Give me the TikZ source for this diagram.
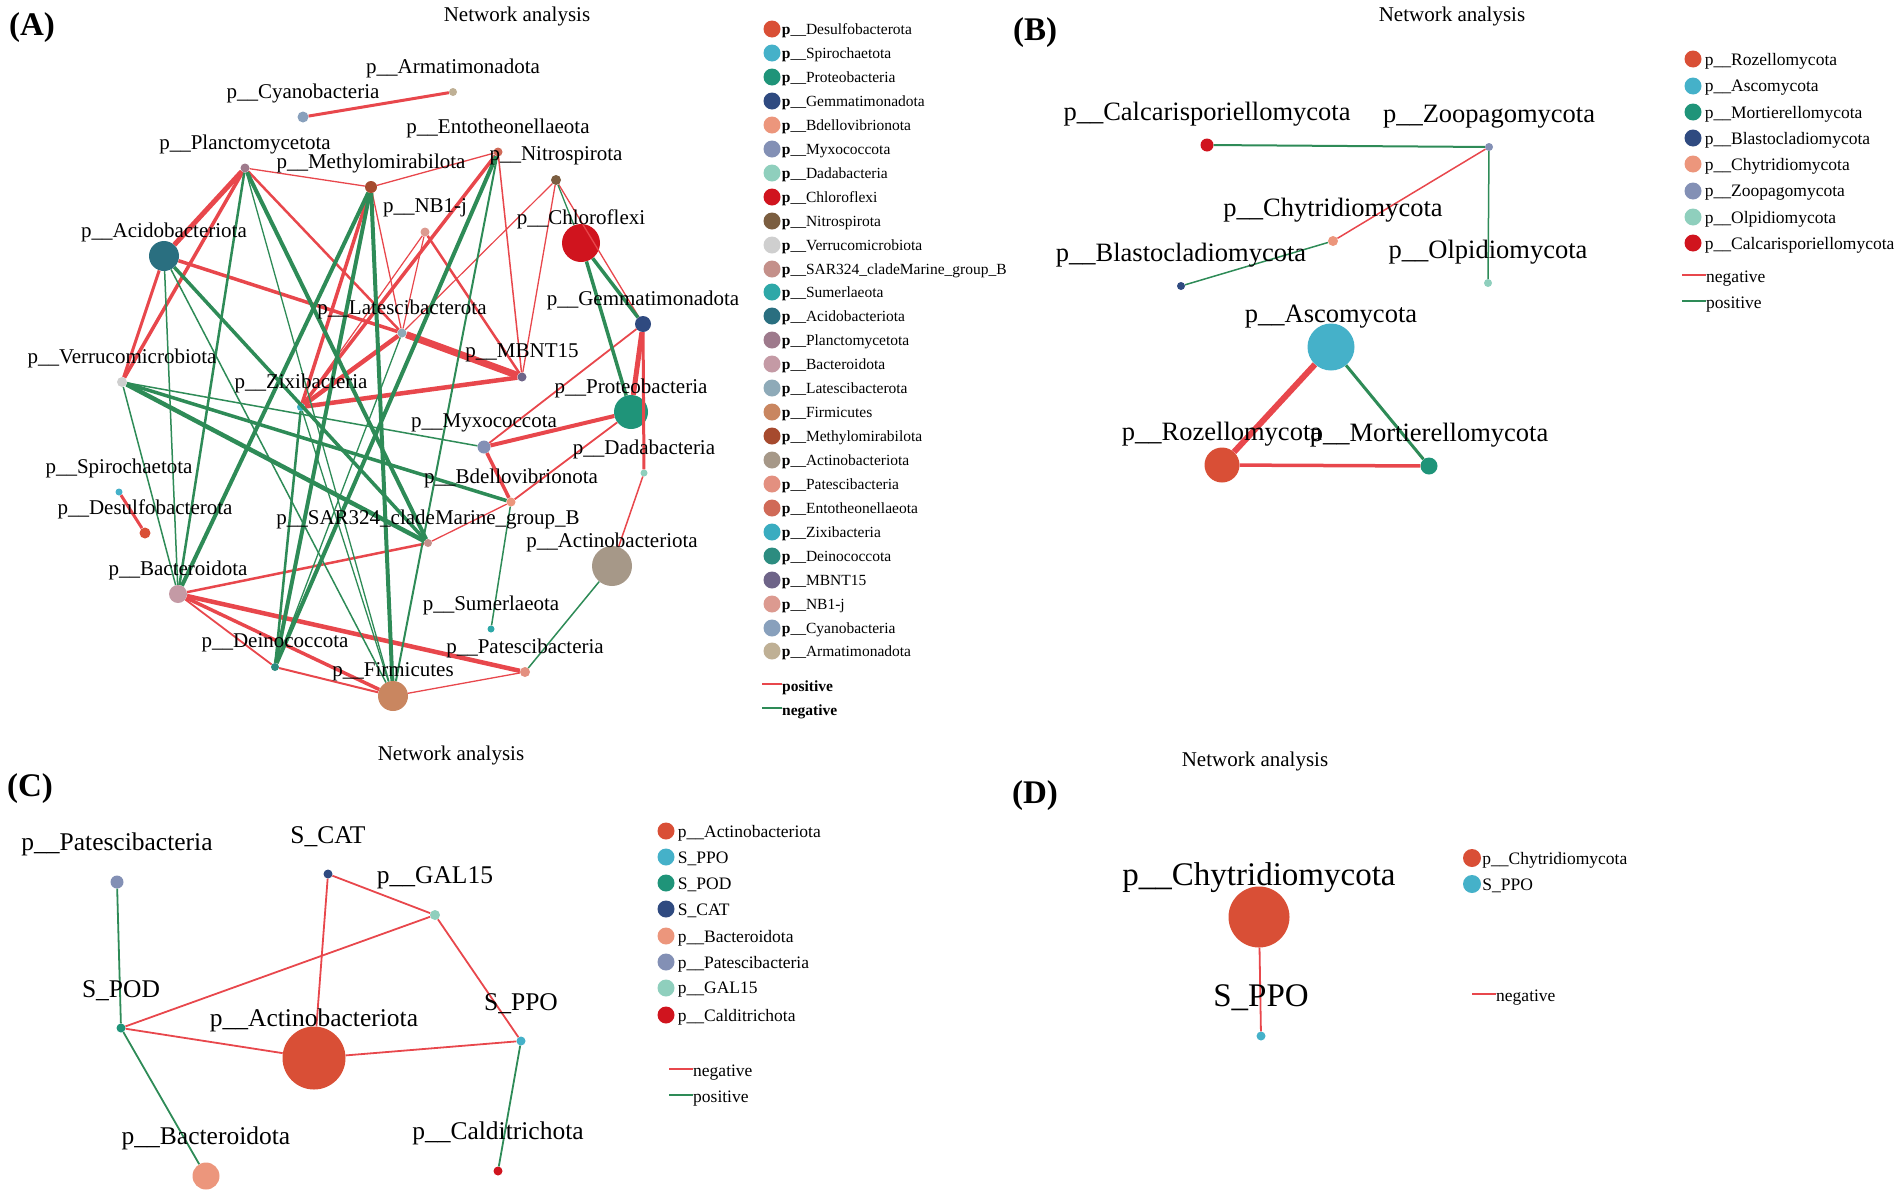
\documentclass[tikz,border=0pt]{standalone}
\usepackage{fontspec}
\setmainfont{Liberation Serif}
\usepackage{xcolor}
\usepackage{tikz}
\usetikzlibrary{positioning}
\definecolor{edgered}{HTML}{E8474C}
\definecolor{edgegreen}{HTML}{2E8B57}
\definecolor{cDesulfo}{HTML}{D94F36}
\definecolor{cSpiro}{HTML}{45B1C9}
\definecolor{cProteo}{HTML}{1F9479}
\definecolor{cGemma}{HTML}{2F4A80}
\definecolor{cBdello}{HTML}{EC967C}
\definecolor{cMyxo}{HTML}{8390B5}
\definecolor{cDada}{HTML}{8FCFBD}
\definecolor{cChloro}{HTML}{D0141E}
\definecolor{cNitro}{HTML}{7B5E40}
\definecolor{cVerru}{HTML}{CFCFCF}
\definecolor{cSar}{HTML}{C4908A}
\definecolor{cSumer}{HTML}{2EA8A8}
\definecolor{cAcido}{HTML}{2A6F80}
\definecolor{cPlanct}{HTML}{9E7A8C}
\definecolor{cBacter}{HTML}{C49AA5}
\definecolor{cLatesci}{HTML}{8EAAB8}
\definecolor{cFirmi}{HTML}{C98660}
\definecolor{cMethylo}{HTML}{A64A2E}
\definecolor{cActino}{HTML}{A69888}
\definecolor{cPatesci}{HTML}{E39080}
\definecolor{cEntotheo}{HTML}{D06A58}
\definecolor{cZixi}{HTML}{3AACC0}
\definecolor{cDeino}{HTML}{2C8C80}
\definecolor{cMbnt}{HTML}{6E6488}
\definecolor{cNbj}{HTML}{DC9A90}
\definecolor{cCyano}{HTML}{88A0BC}
\definecolor{cArmati}{HTML}{BFB095}
\tikzset{
    taxon/.style = {circle, draw=none, inner sep=0pt},
    nameA/.style = {inner sep=0pt, font=\fontsize{21}{24}\selectfont},
    nameB/.style = {inner sep=0pt, font=\fontsize{26.5}{30}\selectfont},
    nameC/.style = {inner sep=0pt, font=\fontsize{25.5}{29}\selectfont},
    nameD/.style = {inner sep=0pt, font=\fontsize{33}{38}\selectfont},
    keyA/.style  = {inner sep=0pt, anchor=west, yshift=-2pt, font=\fontsize{15.5}{18}\selectfont},
    keyB/.style  = {inner sep=0pt, anchor=west, yshift=-2pt, font=\fontsize{17.5}{20}\selectfont},
    keydot/.style = {circle, draw=none, inner sep=0pt, minimum size=17pt},
    title/.style = {inner sep=0pt, font=\fontsize{21}{24}\selectfont},
    panel/.style = {inner sep=0pt, font=\fontsize{33}{38}\selectfont\bfseries},
    posedge/.style = {draw=edgered},
    negedge/.style = {draw=edgegreen}
}

\begin{document}
\begin{tikzpicture}[x=1pt, y=-1pt]
    \useasboundingbox (0,0) rectangle (1902,1200);

    % ---------------- (A) ----------------
    \node [panel] (pa) at (32,27.5) {(A)};
    \node [title] (ta) at (517,16.5) {Network analysis};

    \node [taxon, fill=cDesulfo, minimum size=11pt] (desulfo) at (145,533) {};
    \node [taxon, fill=cSpiro, minimum size=7pt] (spiro) at (119,492) {};
    \node [taxon, fill=cProteo, minimum size=34pt] (proteo) at (631,412) {};
    \node [taxon, fill=cGemma, minimum size=16pt] (gemma) at (643,324) {};
    \node [taxon, fill=cBdello, minimum size=9pt] (bdello) at (511,502) {};
    \node [taxon, fill=cMyxo, minimum size=13pt] (myxo) at (484,447) {};
    \node [taxon, fill=cDada, minimum size=7pt] (dada) at (644,473) {};
    \node [taxon, fill=cChloro, minimum size=38pt] (chloro) at (581,243) {};
    \node [taxon, fill=cNitro, minimum size=10pt] (nitro) at (556,180) {};
    \node [taxon, fill=cVerru, minimum size=10pt] (verru) at (122,382) {};
    \node [taxon, fill=cSar, minimum size=8pt] (sar) at (428,543) {};
    \node [taxon, fill=cSumer, minimum size=7pt] (sumer) at (491,629) {};
    \node [taxon, fill=cAcido, minimum size=30pt] (acido) at (164,256) {};
    \node [taxon, fill=cPlanct, minimum size=9pt] (planct) at (245,168) {};
    \node [taxon, fill=cBacter, minimum size=18pt] (bacter) at (178,594) {};
    \node [taxon, fill=cLatesci, minimum size=9pt] (latesci) at (402,333) {};
    \node [taxon, fill=cFirmi, minimum size=30pt] (firmi) at (393,696) {};
    \node [taxon, fill=cMethylo, minimum size=12pt] (methylo) at (371,187) {};
    \node [taxon, fill=cActino, minimum size=40pt] (actino) at (612,566) {};
    \node [taxon, fill=cPatesci, minimum size=10pt] (patesci) at (525,672) {};
    \node [taxon, fill=cEntotheo, minimum size=9pt] (entotheo) at (498,152) {};
    \node [taxon, fill=cZixi, minimum size=8pt] (zixi) at (301,407) {};
    \node [taxon, fill=cDeino, minimum size=8pt] (deino) at (275,667) {};
    \node [taxon, fill=cMbnt, minimum size=9pt] (mbnt) at (522,377) {};
    \node [taxon, fill=cNbj, minimum size=9pt] (nbj) at (425,232) {};
    \node [taxon, fill=cCyano, minimum size=11pt] (cyano) at (303,117) {};
    \node [taxon, fill=cArmati, minimum size=8pt] (armati) at (453,92) {};

    % positive (red)
    \draw [posedge, line width=3] (cyano) -- (armati);
    \draw [posedge, line width=3] (spiro) -- (desulfo);
    \draw [posedge, line width=1.3] (planct) -- (methylo);
    \draw [posedge, line width=5] (planct) -- (acido);
    \draw [posedge, line width=3.5] (planct) -- (verru);
    \draw [posedge, line width=2.5] (planct) -- (latesci);
    \draw [posedge, line width=1.3] (methylo) -- (entotheo);
    \draw [posedge, line width=3] (acido) -- (verru);
    \draw [posedge, line width=3.5] (acido) -- (latesci);
    \draw [posedge, line width=7] (latesci) -- (mbnt);
    \draw [posedge, line width=4.5] (zixi) -- (mbnt);
    \draw [posedge, line width=3.5] (methylo) -- (zixi);
    \draw [posedge, line width=3.5] (entotheo) -- (zixi);
    \draw [posedge, line width=4.5] (latesci) -- (zixi);
    \draw [posedge, line width=1.5] (entotheo) -- (mbnt);
    \draw [posedge, line width=1.2] (nbj) -- (zixi);
    \draw [posedge, line width=1.2] (nbj) -- (latesci);
    \draw [posedge, line width=2.5] (nbj) -- (mbnt);
    \draw [posedge, line width=1.2] (nitro) -- (latesci);
    \draw [posedge, line width=1.3] (nitro) -- (mbnt);
    \draw [posedge, line width=1.3] (nitro) -- (gemma);
    \draw [posedge, line width=1.3] (methylo) -- (latesci);
    \draw [posedge, line width=5] (gemma) -- (proteo);
    \draw [posedge, line width=3] (gemma) -- (dada);
    \draw [posedge, line width=1.8] (gemma) -- (myxo);
    \draw [posedge, line width=4] (proteo) -- (myxo);
    \draw [posedge, line width=1.8] (proteo) -- (bdello);
    \draw [posedge, line width=3.5] (myxo) -- (bdello);
    \draw [posedge, line width=1.3] (bdello) -- (sar);
    \draw [posedge, line width=1.5] (dada) -- (actino);
    \draw [posedge, line width=2.5] (bacter) -- (sar);
    \draw [posedge, line width=4.5] (bacter) -- (patesci);
    \draw [posedge, line width=3.5] (bacter) -- (firmi);
    \draw [posedge, line width=1.8] (bacter) -- (deino);
    \draw [posedge, line width=2] (deino) -- (firmi);
    \draw [posedge, line width=1.3] (firmi) -- (patesci);
    % negative (green)
    \draw [negedge, line width=2.5] (planct) -- (bacter);
    \draw [negedge, line width=4] (planct) -- (sar);
    \draw [negedge, line width=1.3] (planct) -- (firmi);
    \draw [negedge, line width=1.5] (acido) -- (bacter);
    \draw [negedge, line width=1.5] (acido) -- (firmi);
    \draw [negedge, line width=3.5] (acido) -- (sar);
    \draw [negedge, line width=1.5] (verru) -- (bacter);
    \draw [negedge, line width=1.5] (verru) -- (myxo);
    \draw [negedge, line width=3.5] (verru) -- (bdello);
    \draw [negedge, line width=4.5] (verru) -- (sar);
    \draw [negedge, line width=4] (methylo) -- (bacter);
    \draw [negedge, line width=4] (methylo) -- (deino);
    \draw [negedge, line width=4] (methylo) -- (firmi);
    \draw [negedge, line width=4] (entotheo) -- (deino);
    \draw [negedge, line width=2] (entotheo) -- (firmi);
    \draw [negedge, line width=1.3] (latesci) -- (deino);
    \draw [negedge, line width=2.5] (zixi) -- (deino);
    \draw [negedge, line width=1.3] (zixi) -- (firmi);
    \draw [negedge, line width=1.3] (nitro) -- (chloro);
    \draw [negedge, line width=3.5] (chloro) -- (gemma);
    \draw [negedge, line width=3.5] (chloro) -- (proteo);
    \draw [negedge, line width=1.5] (bdello) -- (sumer);
    \draw [negedge, line width=1.5] (actino) -- (patesci);

    \node [nameA] (desulfo-l) at ([yshift=24pt]desulfo.center) {p\_\_Desulfobacterota};
    \node [nameA] (spiro-l) at ([yshift=24pt]spiro.center) {p\_\_Spirochaetota};
    \node [nameA] (proteo-l) at ([yshift=24pt]proteo.center) {p\_\_Proteobacteria};
    \node [nameA] (gemma-l) at ([yshift=24pt]gemma.center) {p\_\_Gemmatimonadota};
    \node [nameA] (bdello-l) at ([yshift=24pt]bdello.center) {p\_\_Bdellovibrionota};
    \node [nameA] (myxo-l) at ([yshift=24pt]myxo.center) {p\_\_Myxococcota};
    \node [nameA] (dada-l) at ([yshift=24pt]dada.center) {p\_\_Dadabacteria};
    \node [nameA] (chloro-l) at ([yshift=24pt]chloro.center) {p\_\_Chloroflexi};
    \node [nameA] (nitro-l) at ([yshift=24pt]nitro.center) {p\_\_Nitrospirota};
    \node [nameA] (verru-l) at ([yshift=24pt]verru.center) {p\_\_Verrucomicrobiota};
    \node [nameA] (sar-l) at ([yshift=24pt]sar.center) {p\_\_SAR324\_cladeMarine\_group\_B};
    \node [nameA] (sumer-l) at ([yshift=24pt]sumer.center) {p\_\_Sumerlaeota};
    \node [nameA] (acido-l) at ([yshift=24pt]acido.center) {p\_\_Acidobacteriota};
    \node [nameA] (planct-l) at ([yshift=24pt]planct.center) {p\_\_Planctomycetota};
    \node [nameA] (bacter-l) at ([yshift=24pt]bacter.center) {p\_\_Bacteroidota};
    \node [nameA] (latesci-l) at ([yshift=24pt]latesci.center) {p\_\_Latescibacterota};
    \node [nameA] (firmi-l) at ([yshift=24pt]firmi.center) {p\_\_Firmicutes};
    \node [nameA] (methylo-l) at ([yshift=24pt]methylo.center) {p\_\_Methylomirabilota};
    \node [nameA] (actino-l) at ([yshift=24pt]actino.center) {p\_\_Actinobacteriota};
    \node [nameA] (patesci-l) at ([yshift=24pt]patesci.center) {p\_\_Patescibacteria};
    \node [nameA] (entotheo-l) at ([yshift=24pt]entotheo.center) {p\_\_Entotheonellaeota};
    \node [nameA] (zixi-l) at ([yshift=24pt]zixi.center) {p\_\_Zixibacteria};
    \node [nameA] (deino-l) at ([yshift=24pt]deino.center) {p\_\_Deinococcota};
    \node [nameA] (mbnt-l) at ([yshift=24pt]mbnt.center) {p\_\_MBNT15};
    \node [nameA] (nbj-l) at ([yshift=24pt]nbj.center) {p\_\_NB1-j};
    \node [nameA] (cyano-l) at ([yshift=24pt]cyano.center) {p\_\_Cyanobacteria};
    \node [nameA] (armati-l) at ([yshift=24pt]armati.center) {p\_\_Armatimonadota};

    % legend A
    \node [keydot, fill=cDesulfo, label={[keyA, label distance=1pt]right:{\textbf{p}\_\_Desulfobacterota}}] (ka1) at (772,29) {};
    \node [keydot, fill=cSpiro, label={[keyA, label distance=1pt]right:{\textbf{p}\_\_Spirochaetota}}] (ka2) at (772,53) {};
    \node [keydot, fill=cProteo, label={[keyA, label distance=1pt]right:{\textbf{p}\_\_Proteobacteria}}] (ka3) at (772,77) {};
    \node [keydot, fill=cGemma, label={[keyA, label distance=1pt]right:{\textbf{p}\_\_Gemmatimonadota}}] (ka4) at (772,101) {};
    \node [keydot, fill=cBdello, label={[keyA, label distance=1pt]right:{\textbf{p}\_\_Bdellovibrionota}}] (ka5) at (772,125) {};
    \node [keydot, fill=cMyxo, label={[keyA, label distance=1pt]right:{\textbf{p}\_\_Myxococcota}}] (ka6) at (772,149) {};
    \node [keydot, fill=cDada, label={[keyA, label distance=1pt]right:{\textbf{p}\_\_Dadabacteria}}] (ka7) at (772,173) {};
    \node [keydot, fill=cChloro, label={[keyA, label distance=1pt]right:{\textbf{p}\_\_Chloroflexi}}] (ka8) at (772,197) {};
    \node [keydot, fill=cNitro, label={[keyA, label distance=1pt]right:{\textbf{p}\_\_Nitrospirota}}] (ka9) at (772,221) {};
    \node [keydot, fill=cVerru, label={[keyA, label distance=1pt]right:{\textbf{p}\_\_Verrucomicrobiota}}] (ka10) at (772,245) {};
    \node [keydot, fill=cSar, label={[keyA, label distance=1pt]right:{\textbf{p}\_\_SAR324\_cladeMarine\_group\_B}}] (ka11) at (772,269) {};
    \node [keydot, fill=cSumer, label={[keyA, label distance=1pt]right:{\textbf{p}\_\_Sumerlaeota}}] (ka12) at (772,292) {};
    \node [keydot, fill=cAcido, label={[keyA, label distance=1pt]right:{\textbf{p}\_\_Acidobacteriota}}] (ka13) at (772,316) {};
    \node [keydot, fill=cPlanct, label={[keyA, label distance=1pt]right:{\textbf{p}\_\_Planctomycetota}}] (ka14) at (772,340) {};
    \node [keydot, fill=cBacter, label={[keyA, label distance=1pt]right:{\textbf{p}\_\_Bacteroidota}}] (ka15) at (772,364) {};
    \node [keydot, fill=cLatesci, label={[keyA, label distance=1pt]right:{\textbf{p}\_\_Latescibacterota}}] (ka16) at (772,388) {};
    \node [keydot, fill=cFirmi, label={[keyA, label distance=1pt]right:{\textbf{p}\_\_Firmicutes}}] (ka17) at (772,412) {};
    \node [keydot, fill=cMethylo, label={[keyA, label distance=1pt]right:{\textbf{p}\_\_Methylomirabilota}}] (ka18) at (772,436) {};
    \node [keydot, fill=cActino, label={[keyA, label distance=1pt]right:{\textbf{p}\_\_Actinobacteriota}}] (ka19) at (772,460) {};
    \node [keydot, fill=cPatesci, label={[keyA, label distance=1pt]right:{\textbf{p}\_\_Patescibacteria}}] (ka20) at (772,484) {};
    \node [keydot, fill=cEntotheo, label={[keyA, label distance=1pt]right:{\textbf{p}\_\_Entotheonellaeota}}] (ka21) at (772,508) {};
    \node [keydot, fill=cZixi, label={[keyA, label distance=1pt]right:{\textbf{p}\_\_Zixibacteria}}] (ka22) at (772,532) {};
    \node [keydot, fill=cDeino, label={[keyA, label distance=1pt]right:{\textbf{p}\_\_Deinococcota}}] (ka23) at (772,556) {};
    \node [keydot, fill=cMbnt, label={[keyA, label distance=1pt]right:{\textbf{p}\_\_MBNT15}}] (ka24) at (772,580) {};
    \node [keydot, fill=cNbj, label={[keyA, label distance=1pt]right:{\textbf{p}\_\_NB1-j}}] (ka25) at (772,604) {};
    \node [keydot, fill=cCyano, label={[keyA, label distance=1pt]right:{\textbf{p}\_\_Cyanobacteria}}] (ka26) at (772,628) {};
    \node [keydot, fill=cArmati, label={[keyA, label distance=1pt]right:{\textbf{p}\_\_Armatimonadota}}] (ka27) at (772,651) {};
    \coordinate (kaposs) at (762,684);
    \node [keyA] (kapos) at (782,686) {\textbf{positive}};
    \coordinate (kanegs) at (762,708);
    \node [keyA] (kaneg) at (782,710) {\textbf{negative}};
    \draw [posedge, line width=1.5] (kaposs) -- (kaposs -| kapos.west);
    \draw [negedge, line width=1.5] (kanegs) -- (kanegs -| kaneg.west);

    % ---------------- (B) ----------------
    \node [panel] (pb) at (1035,32.5) {(B)};
    \node [title] (tb) at (1452,16.5) {Network analysis};

    \node [taxon, fill=cChloro, minimum size=13pt] (calca) at (1207,145) {};
    \node [taxon, fill=cMyxo, minimum size=8pt] (zoopa) at (1489,147) {};
    \node [taxon, fill=cBdello, minimum size=10pt] (chytb) at (1333,241) {};
    \node [taxon, fill=cGemma, minimum size=8pt] (blast) at (1181,286) {};
    \node [taxon, fill=cDada, minimum size=8pt] (olpid) at (1488,283) {};
    \node [taxon, fill=cSpiro, minimum size=47pt] (ascom) at (1331,347) {};
    \node [taxon, fill=cDesulfo, minimum size=35pt] (rozel) at (1222,465) {};
    \node [taxon, fill=cProteo, minimum size=17pt] (morti) at (1429,466) {};

    \draw [negedge, line width=2] (calca) -- (zoopa);
    \draw [posedge, line width=1.5] (zoopa) -- (chytb);
    \draw [negedge, line width=1.5] (zoopa) -- (olpid);
    \draw [negedge, line width=1.5] (chytb) -- (blast);
    \draw [posedge, line width=6] (ascom) -- (rozel);
    \draw [negedge, line width=3] (ascom) -- (morti);
    \draw [posedge, line width=3.5] (rozel) -- (morti);

    \node [nameB] (calca-l) at ([yshift=30.5pt]calca.center) {p\_\_Calcarisporiellomycota};
    \node [nameB] (zoopa-l) at ([yshift=30.5pt]zoopa.center) {p\_\_Zoopagomycota};
    \node [nameB] (chytb-l) at ([yshift=30.5pt]chytb.center) {p\_\_Chytridiomycota};
    \node [nameB] (blast-l) at ([yshift=30.5pt]blast.center) {p\_\_Blastocladiomycota};
    \node [nameB] (olpid-l) at ([yshift=30.5pt]olpid.center) {p\_\_Olpidiomycota};
    \node [nameB] (ascom-l) at ([yshift=30.5pt]ascom.center) {p\_\_Ascomycota};
    \node [nameB] (rozel-l) at ([yshift=30.5pt]rozel.center) {p\_\_Rozellomycota};
    \node [nameB] (morti-l) at ([yshift=30.5pt]morti.center) {p\_\_Mortierellomycota};

    % legend B
    \node [keydot, fill=cDesulfo, label={[keyB, label distance=3pt]right:{p\_\_Rozellomycota}}] (kb1) at (1693,59) {};
    \node [keydot, fill=cSpiro, label={[keyB, label distance=3pt]right:{p\_\_Ascomycota}}] (kb2) at (1693,86) {};
    \node [keydot, fill=cProteo, label={[keyB, label distance=3pt]right:{p\_\_Mortierellomycota}}] (kb3) at (1693,112) {};
    \node [keydot, fill=cGemma, label={[keyB, label distance=3pt]right:{p\_\_Blastocladiomycota}}] (kb4) at (1693,138) {};
    \node [keydot, fill=cBdello, label={[keyB, label distance=3pt]right:{p\_\_Chytridiomycota}}] (kb5) at (1693,164) {};
    \node [keydot, fill=cMyxo, label={[keyB, label distance=3pt]right:{p\_\_Zoopagomycota}}] (kb6) at (1693,191) {};
    \node [keydot, fill=cDada, label={[keyB, label distance=3pt]right:{p\_\_Olpidiomycota}}] (kb7) at (1693,217) {};
    \node [keydot, fill=cChloro, label={[keyB, label distance=3pt]right:{p\_\_Calcarisporiellomycota}}] (kb8) at (1693,243) {};
    \coordinate (kbnegs) at (1682,275);
    \node [keyB] (kbneg) at (1706,277) {negative};
    \coordinate (kbposs) at (1682,301);
    \node [keyB] (kbpos) at (1706,303) {positive};
    \draw [posedge, line width=1.5] (kbnegs) -- (kbnegs -| kbneg.west);
    \draw [negedge, line width=1.5] (kbposs) -- (kbposs -| kbpos.west);

    % ---------------- (C) ----------------
    \node [panel] (pc) at (30,788.5) {(C)};
    \node [title] (tc) at (451,755.5) {Network analysis};

    \node [taxon, fill=cMyxo, minimum size=13pt] (patc) at (117,882) {};
    \node [taxon, fill=cGemma, minimum size=9pt] (scat) at (328,874) {};
    \node [taxon, fill=cDada, minimum size=10pt] (gal) at (435,915) {};
    \node [taxon, fill=cProteo, minimum size=9pt] (spod) at (121,1028) {};
    \node [taxon, fill=cDesulfo, minimum size=63pt] (actc) at (314,1058) {};
    \node [taxon, fill=cSpiro, minimum size=9pt] (sppoc) at (521,1041) {};
    \node [taxon, fill=cBdello, minimum size=27pt] (bacc) at (206,1176) {};
    \node [taxon, fill=cChloro, minimum size=9pt] (calc) at (498,1171) {};

    \draw [negedge, line width=1.8] (patc) -- (spod);
    \draw [negedge, line width=1.8] (spod) -- (bacc);
    \draw [posedge, line width=1.8] (spod) -- (gal);
    \draw [posedge, line width=1.8] (spod) -- (actc);
    \draw [posedge, line width=1.8] (scat) -- (actc);
    \draw [posedge, line width=1.8] (scat) -- (gal);
    \draw [posedge, line width=1.8] (gal) -- (sppoc);
    \draw [posedge, line width=1.8] (actc) -- (sppoc);
    \draw [negedge, line width=1.8] (sppoc) -- (calc);

    \node [nameC] (patc-l) at ([yshift=37.5pt]patc.center) {p\_\_Patescibacteria};
    \node [nameC] (scat-l) at ([yshift=37.5pt]scat.center) {S\_CAT};
    \node [nameC] (gal-l) at ([yshift=37.5pt]gal.center) {p\_\_GAL15};
    \node [nameC] (spod-l) at ([yshift=37.5pt]spod.center) {S\_POD};
    \node [nameC] (actc-l) at ([yshift=37.5pt]actc.center) {p\_\_Actinobacteriota};
    \node [nameC] (sppoc-l) at ([yshift=37.5pt]sppoc.center) {S\_PPO};
    \node [nameC] (bacc-l) at ([yshift=37.5pt]bacc.center) {p\_\_Bacteroidota};
    \node [nameC] (calc-l) at ([yshift=37.5pt]calc.center) {p\_\_Calditrichota};

    % legend C
    \node [keydot, fill=cDesulfo, label={[keyB, label distance=3pt]right:{p\_\_Actinobacteriota}}] (kc1) at (666,831) {};
    \node [keydot, fill=cSpiro, label={[keyB, label distance=3pt]right:{S\_PPO}}] (kc2) at (666,857) {};
    \node [keydot, fill=cProteo, label={[keyB, label distance=3pt]right:{S\_POD}}] (kc3) at (666,883) {};
    \node [keydot, fill=cGemma, label={[keyB, label distance=3pt]right:{S\_CAT}}] (kc4) at (666,909) {};
    \node [keydot, fill=cBdello, label={[keyB, label distance=3pt]right:{p\_\_Bacteroidota}}] (kc5) at (666,936) {};
    \node [keydot, fill=cMyxo, label={[keyB, label distance=3pt]right:{p\_\_Patescibacteria}}] (kc6) at (666,962) {};
    \node [keydot, fill=cDada, label={[keyB, label distance=3pt]right:{p\_\_GAL15}}] (kc7) at (666,988) {};
    \node [keydot, fill=cChloro, label={[keyB, label distance=3pt]right:{p\_\_Calditrichota}}] (kc8) at (666,1015) {};
    \coordinate (kcnegs) at (669,1069);
    \node [keyB] (kcneg) at (693,1071) {negative};
    \coordinate (kcposs) at (669,1095);
    \node [keyB] (kcpos) at (693,1097) {positive};
    \draw [posedge, line width=1.5] (kcnegs) -- (kcnegs -| kcneg.west);
    \draw [negedge, line width=1.5] (kcposs) -- (kcposs -| kcpos.west);

    % ---------------- (D) ----------------
    \node [panel] (pd) at (1035,795.5) {(D)};
    \node [title] (td) at (1255,761.5) {Network analysis};

    \node [taxon, fill=cDesulfo, minimum size=61pt] (chytd) at (1259,917) {};
    \node [taxon, fill=cSpiro, minimum size=9pt] (sppod) at (1261,1036) {};
    \draw [posedge, line width=1.8] (chytd) -- (sppod);
    \node [nameD] (chytd-l) at ([yshift=39pt]chytd.center) {p\_\_Chytridiomycota};
    \node [nameD] (sppod-l) at ([yshift=38.5pt]sppod.center) {S\_PPO};

    % legend D
    \node [keydot, fill=cDesulfo, minimum size=18pt, label={[keyB, label distance=1pt]right:{p\_\_Chytridiomycota}}] (kd1) at (1472,858) {};
    \node [keydot, fill=cSpiro, minimum size=18pt, label={[keyB, label distance=1pt]right:{S\_PPO}}] (kd2) at (1472,884) {};
    \coordinate (kdnegs) at (1472,994);
    \node [keyB] (kdneg) at (1496,996) {negative};
    \draw [posedge, line width=1.5] (kdnegs) -- (kdnegs -| kdneg.west);
\end{tikzpicture}
\end{document}
